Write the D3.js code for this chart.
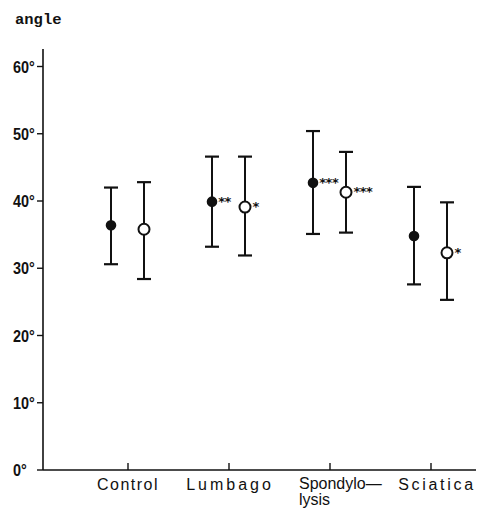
<!DOCTYPE html>
<html>
<head>
<meta charset="utf-8">
<script src="https://cdn.jsdelivr.net/npm/d3@7"></script>
<style>
  body { margin: 0; background: #fff; }
  svg { display: block; }
</style>
</head>
<body>
<div id="svg-container"></div>
<script>
const categories = ["Control", "Lumbago", "Spondylo\u2014|lysis", "Sciatica"];

// filled circles (first measurement)
const filledMean  = [36.4, 39.9, 42.7, 34.8],
      filledUpper = [42.0, 46.6, 50.4, 42.1],
      filledLower = [30.6, 33.2, 35.1, 27.6],
      filledStars = ["", "**", "***", ""];

// open circles (second measurement)
const openMean  = [35.8, 39.1, 41.3, 32.3],
      openUpper = [42.8, 46.6, 47.3, 39.8],
      openLower = [28.4, 31.9, 35.3, 25.3],
      openStars = ["", "*", "***", "*"];

const yTicks = [0, 10, 20, 30, 40, 50, 60];

const width = 481,
      height = 508,
      margin = {top: 49, right: 5, bottom: 38, left: 43};

// the scanned labels are spaced unevenly
const labelSpacing = [1.5, 3, 0, 2.7],
      labelShift = [0, 1, 0, 6];

const svg = d3.select("#svg-container").append("svg")
        .attr("width", width)
        .attr("height", height);

const x = d3.scalePoint(categories, [128, 431]),
      y = d3.scaleLinear([0, 60], [height - margin.bottom, 66.5]);

const ink = "#111";

// y axis
svg.append("line")
    .attr("x1", margin.left).attr("x2", margin.left)
    .attr("y1", margin.top).attr("y2", y(0))
    .attr("stroke", ink).attr("stroke-width", 1.6);

const yAxis = svg.append("g")
    .selectAll("g")
    .data(yTicks)
    .join("g")
    .attr("transform", function(d) { return `translate(${margin.left},${y(d)})`; });

yAxis.append("line")
    .attr("x1", -6).attr("x2", 0)
    .attr("stroke", ink).attr("stroke-width", 1.4);

yAxis.append("text")
    .attr("transform", "translate(-30,6) scale(0.85,1)")
    .attr("font-family", "'Liberation Sans', Arial, sans-serif")
    .attr("font-weight", "bold")
    .attr("font-size", 17)
    .attr("fill", ink)
    .text(function(d) { return d + "\u00b0"; });

// x axis
svg.append("line")
    .attr("x1", margin.left).attr("x2", width - margin.right)
    .attr("y1", y(0)).attr("y2", y(0))
    .attr("stroke", ink).attr("stroke-width", 1.4);

const xAxis = svg.append("g")
    .selectAll("g")
    .data(categories)
    .join("g")
    .attr("transform", function(d) { return `translate(${x(d)},${y(0)})`; });

xAxis.append("line")
    .attr("y1", -7).attr("y2", 0)
    .attr("stroke", ink).attr("stroke-width", 1.4);

xAxis.each(function(d, i) {
    const parts = d.split("|"),
          g = d3.select(this);
    parts.forEach(function(p, j) {
        g.append("text")
            .attr("font-family", "'Liberation Sans', Arial, sans-serif")
            .attr("font-size", 16)
            .attr("fill", ink)
            .attr("letter-spacing", labelSpacing[i] + "px")
            .attr("text-anchor", parts.length > 1 ? "start" : "middle")
            .attr("x", parts.length > 1 ? -31 : labelShift[i])
            .attr("y", parts.length > 1 ? 19 + j * 16 : 20)
            .text(p);
    });
});

// axis title
svg.append("text")
    .attr("x", 15)
    .attr("y", 24)
    .attr("font-family", "'Liberation Mono', 'DejaVu Sans Mono', monospace")
    .attr("font-weight", "bold")
    .attr("font-size", 15.5)
    .attr("fill", ink)
    .text("angle");

// error bars
const series = [
    { key: "filled", offset: -17, mean: filledMean, upper: filledUpper, lower: filledLower,
      stars: filledStars, r: 4.3, fill: ink },
    { key: "open", offset: 16, mean: openMean, upper: openUpper, lower: openLower,
      stars: openStars, r: 5.5, fill: "#fff" }
];

series.forEach(function(s) {
    const rows = categories.map(function(c, i) {
        return { cat: c, mean: s.mean[i], upper: s.upper[i], lower: s.lower[i], star: s.stars[i] };
    });

    const g = svg.append("g")
        .attr("class", s.key)
        .selectAll("g")
        .data(rows)
        .join("g")
        .attr("transform", function(d) { return `translate(${x(d.cat) + s.offset},0)`; });

    g.append("line")
        .attr("y1", function(d) { return y(d.upper); })
        .attr("y2", function(d) { return y(d.lower); })
        .attr("stroke", ink).attr("stroke-width", 2);

    g.selectAll(".cap")
        .data(function(d) { return [d.upper, d.lower]; })
        .join("line")
        .attr("class", "cap")
        .attr("x1", -7).attr("x2", 7)
        .attr("y1", function(v) { return y(v); })
        .attr("y2", function(v) { return y(v); })
        .attr("stroke", ink).attr("stroke-width", 2.2);

    g.append("circle")
        .attr("cy", function(d) { return y(d.mean); })
        .attr("r", s.r)
        .attr("fill", s.fill)
        .attr("stroke", ink)
        .attr("stroke-width", 2);

    g.append("text")
        .attr("x", s.r + 2)
        .attr("y", function(d) { return y(d.mean) + 4; })
        .attr("font-family", "'DejaVu Sans', sans-serif")
        .attr("font-weight", "bold")
        .attr("font-size", 13)
        .attr("letter-spacing", "-0.5px")
        .attr("fill", ink)
        .text(function(d) { return d.star; });
});
</script>
</body>
</html>
